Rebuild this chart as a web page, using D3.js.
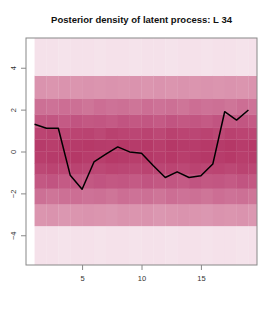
<!DOCTYPE html>
<html>
<head>
<meta charset="utf-8">
<script src="https://cdn.jsdelivr.net/npm/d3@7"></script>
<style>
  body { margin: 0; background: #fff; }
  svg { display: block; font-family: "Liberation Sans", Arial, sans-serif; }
</style>
</head>
<body>
<div id="chart"></div>
<script>
// time points and posterior mean of the latent process
const times = [1, 2, 3, 4, 5, 6, 7, 8, 9, 10, 11, 12, 13, 14, 15, 16, 17, 18, 19];
const latent = [1.30, 1.11, 1.11, -1.13, -1.80, -0.50, -0.13, 0.22, -0.02, -0.08, -0.68, -1.24, -0.97, -1.24, -1.16, -0.60, 1.90, 1.50, 1.98];

// density bands (lower edges ... upper edge), bottom to top
const bandEdges = [-5.42, -3.55, -2.50, -1.77, -1.10, -0.55, 0.0, 0.58, 1.14, 1.78, 2.52, 3.62, 5.42];

// density level (0-100) for each time point, one value per band, bottom to top
const density = [
  [5, 44, 62, 74, 84, 90, 92, 86, 74, 62, 45, 5],
  [5, 45, 60, 76, 86, 92, 90, 88, 75, 61, 44, 5],
  [4, 43, 62, 73, 85, 93, 94, 85, 73, 63, 45, 4],
  [5, 44, 63, 75, 87, 94, 92, 86, 76, 62, 44, 5],
  [5, 45, 61, 74, 85, 91, 93, 87, 74, 60, 45, 5],
  [4, 44, 62, 76, 84, 90, 92, 84, 75, 63, 44, 4],
  [5, 43, 60, 74, 86, 93, 91, 88, 73, 61, 45, 5],
  [5, 45, 63, 75, 85, 92, 94, 86, 76, 62, 44, 5],
  [4, 44, 61, 73, 84, 90, 92, 85, 74, 60, 45, 4],
  [5, 45, 62, 76, 87, 94, 93, 87, 75, 63, 44, 5],
  [5, 43, 60, 74, 85, 91, 90, 84, 73, 61, 45, 5],
  [4, 44, 63, 75, 86, 93, 94, 88, 76, 62, 44, 4],
  [5, 45, 61, 73, 84, 90, 92, 86, 74, 60, 45, 5],
  [5, 44, 62, 76, 87, 92, 91, 85, 75, 63, 44, 5],
  [4, 43, 60, 74, 85, 94, 93, 87, 73, 61, 45, 4],
  [5, 45, 63, 75, 86, 91, 92, 84, 76, 62, 44, 5],
  [5, 44, 61, 73, 84, 93, 94, 88, 74, 60, 45, 5],
  [4, 45, 62, 76, 87, 90, 91, 86, 75, 63, 44, 4],
  [5, 43, 60, 74, 85, 92, 93, 85, 73, 61, 45, 5]
];

const xTicks = [5, 10, 15];
const yTicks = [-4, -2, 0, 2, 4];
const title = "Posterior density of latent process: L 34";

const width = 275, height = 314;
const margin = {top: 38, right: 18, bottom: 49, left: 26};

const svg = d3.select("#chart").append("svg")
    .attr("width", width)
    .attr("height", height);

// R style 4% axis expansion
const x = d3.scaleLinear().domain([0.28, 19.72]).range([margin.left, width - margin.right]);
const y = d3.scaleLinear().domain([-5.42, 5.42]).range([height - margin.bottom, margin.top]);

const color = d3.scaleLinear()
    .domain([0, 45, 75, 100])
    .range(["#f8ebf1", "#da93ae", "#c25682", "#b12e5e"]);

svg.append("clipPath").attr("id", "plotclip")
  .append("rect")
    .attr("x", margin.left)
    .attr("y", margin.top)
    .attr("width", width - margin.left - margin.right)
    .attr("height", height - margin.top - margin.bottom);

const cells = [];
times.forEach((t, i) => {
  density[i].forEach((d, j) => {
    cells.push({t, lo: bandEdges[j], hi: bandEdges[j + 1], d});
  });
});

svg.append("g")
    .attr("clip-path", "url(#plotclip)")
  .selectAll("rect")
  .data(cells)
  .join("rect")
    .attr("x", d => x(d.t))
    .attr("y", d => y(d.hi))
    .attr("width", d => x(d.t + 1) - x(d.t) + 0.3)
    .attr("height", d => y(d.lo) - y(d.hi) + 0.3)
    .attr("fill", d => color(d.d));

// posterior mean line
const line = d3.line()
    .x((d, i) => x(times[i]))
    .y(d => y(d));

svg.append("path")
    .datum(latent)
    .attr("fill", "none")
    .attr("stroke", "#000")
    .attr("stroke-width", 1.5)
    .attr("stroke-linejoin", "round")
    .attr("d", line);

// box
svg.append("rect")
    .attr("x", margin.left)
    .attr("y", margin.top)
    .attr("width", width - margin.left - margin.right)
    .attr("height", height - margin.top - margin.bottom)
    .attr("fill", "none")
    .attr("stroke", "#888")
    .attr("stroke-width", 1);

// x axis
const xAxis = d3.axisBottom(x).tickValues(xTicks).tickSize(5).tickPadding(6);
svg.append("g")
    .attr("transform", `translate(0,${height - margin.bottom})`)
    .call(xAxis)
    .call(g => g.select(".domain").remove())
    .call(g => g.selectAll("line").attr("stroke", "#888"))
    .call(g => g.selectAll("text").attr("font-size", 7.5).attr("fill", "#333")
        .attr("font-family", "Liberation Sans, Arial, sans-serif"));

// y axis with rotated labels
const yAxis = d3.axisLeft(y).tickValues(yTicks).tickSize(5).tickFormat(d3.format("d"));
svg.append("g")
    .attr("transform", `translate(${margin.left},0)`)
    .call(yAxis)
    .call(g => g.select(".domain").remove())
    .call(g => g.selectAll("line").attr("stroke", "#888"))
    .call(g => g.selectAll("text")
        .attr("font-size", 7.5)
        .attr("fill", "#333")
        .attr("font-family", "Liberation Sans, Arial, sans-serif")
        .attr("text-anchor", "middle")
        .attr("x", 0).attr("dy", 0)
        .attr("transform", "translate(-12,0) rotate(-90)")
        .attr("dominant-baseline", "middle"));

svg.append("text")
    .attr("x", (margin.left + width - margin.right) / 2)
    .attr("y", 23)
    .attr("text-anchor", "middle")
    .attr("font-size", 9.5)
    .attr("font-weight", "bold")
    .attr("fill", "#111")
    .text(title);
</script>
</body>
</html>
